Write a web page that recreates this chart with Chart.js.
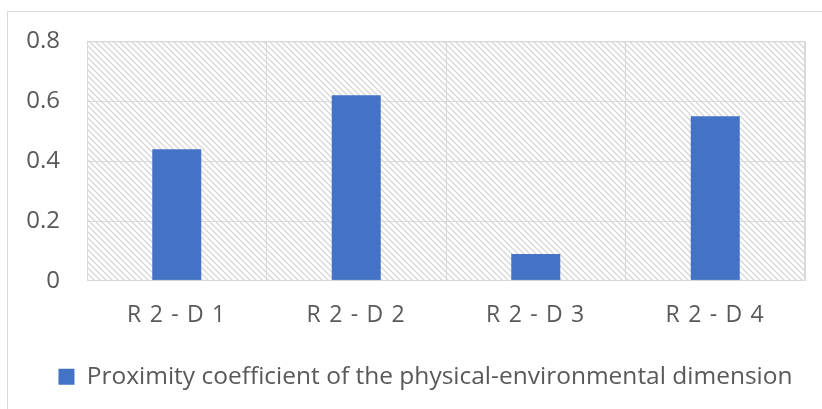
<!DOCTYPE html>
<html>
<head>
<meta charset="utf-8">
<script src="https://cdn.jsdelivr.net/npm/chart.js@4"></script>
<style>
  html, body { margin: 0; padding: 0; background: #fff; }
  #wrap { width: 822px; height: 409px; position: relative; }
</style>
</head>
<body>
<div id="wrap"><canvas id="chart-canvas" width="822" height="409"></canvas></div>
<script>
// data
var categories = ['R 2 - D 1', 'R 2 - D 2', 'R 2 - D 3', 'R 2 - D 4']
var proximity = [0.44, 0.62, 0.09, 0.55]
var seriesName = 'Proximity coefficient of the physical-environmental dimension'
var yTicks = [0, 0.2, 0.4, 0.6, 0.8]

var textGrey = '#595959'
var gridGrey = '#d9d9d9'
var barBlue = '#4472c4'

// diagonal hatch for the plot area
function makeHatch(ctx) {
    var c = document.createElement('canvas')
    c.width = 6
    c.height = 6
    var p = c.getContext('2d')
    p.strokeStyle = '#d6d6d6'
    p.lineWidth = 1.3
    p.beginPath()
    p.moveTo(-1, -1); p.lineTo(7, 7)
    p.moveTo(-7, -1); p.lineTo(1, 7)
    p.moveTo(5, -1); p.lineTo(13, 7)
    p.stroke()
    return ctx.createPattern(c, 'repeat')
}

var backdrop = {
    id: 'backdrop',
    afterLayout: function(chart) {
        // the legend sits a bit right of the canvas centre
        chart.legend.left += 23
        chart.legend.right += 23
        // spaced-out category labels
        var sx = chart.scales.x
        if (!sx._spaced) {
            var orig = sx.drawLabels
            sx.drawLabels = function(area) {
                this.ctx.save()
                this.ctx.letterSpacing = '1.2px'
                orig.call(this, area)
                this.ctx.restore()
            }
            sx._spaced = true
        }
    },
    beforeDraw: function(chart) {
        var ctx = chart.ctx
        var a = chart.chartArea
        ctx.save()
        ctx.fillStyle = '#fff'
        ctx.fillRect(0, 0, chart.width, chart.height)
        // outer frame
        ctx.strokeStyle = '#d9d9d9'
        ctx.lineWidth = 1
        ctx.strokeRect(7.5, 11.5, chart.width + 10, chart.height + 10)
        ctx.fillStyle = makeHatch(ctx)
        ctx.fillRect(a.left, a.top, a.right - a.left, a.bottom - a.top)
        ctx.restore()
    },
    afterDatasetsDraw: function(chart) {
        var ctx = chart.ctx
        var a = chart.chartArea
        ctx.save()
        ctx.strokeStyle = gridGrey
        ctx.lineWidth = 1
        ctx.strokeRect(a.left + 0.5, a.top + 0.5, a.right - a.left - 1, a.bottom - a.top - 1)
        ctx.restore()
    }
}

var ctx = document.getElementById('chart-canvas').getContext('2d')

var chart = new Chart(ctx, {
    type: 'bar',
    data: {
        labels: categories,
        datasets: [{
            label: seriesName,
            data: proximity,
            backgroundColor: barBlue,
            borderWidth: 0,
            barPercentage: 0.273,
            categoryPercentage: 1
        }]
    },
    options: {
        responsive: false,
        animation: false,
        layout: {
            padding: { left: 0, right: 17, top: 32, bottom: 10 }
        },
        plugins: {
            tooltip: { enabled: false },
            legend: {
                position: 'bottom',
                labels: {
                    color: textGrey,
                    font: { family: 'Open Sans', size: 24.5 },
                    boxWidth: 16,
                    boxHeight: 16,
                    padding: 14
                }
            }
        },
        scales: {
            x: {
                offset: true,
                grid: { color: gridGrey, offset: true, drawTicks: false },
                border: { display: false },
                ticks: {
                    color: textGrey,
                    font: { family: 'Open Sans', size: 23 },
                    padding: 21
                }
            },
            y: {
                min: 0,
                max: 0.8,
                afterFit: function(scale) { scale.width = 87 },
                afterBuildTicks: function(scale) {
                    scale.ticks = yTicks.map(function(v) { return { value: v } })
                },
                grid: { color: gridGrey, drawTicks: false },
                border: { display: false },
                ticks: {
                    color: textGrey,
                    font: { family: 'Open Sans', size: 24 },
                    padding: 27,
                    callback: function(v) { return v === 0 ? '0' : String(Math.round(v * 10) / 10) }
                }
            }
        }
    },
    plugins: [backdrop]
})
</script>
</body>
</html>
